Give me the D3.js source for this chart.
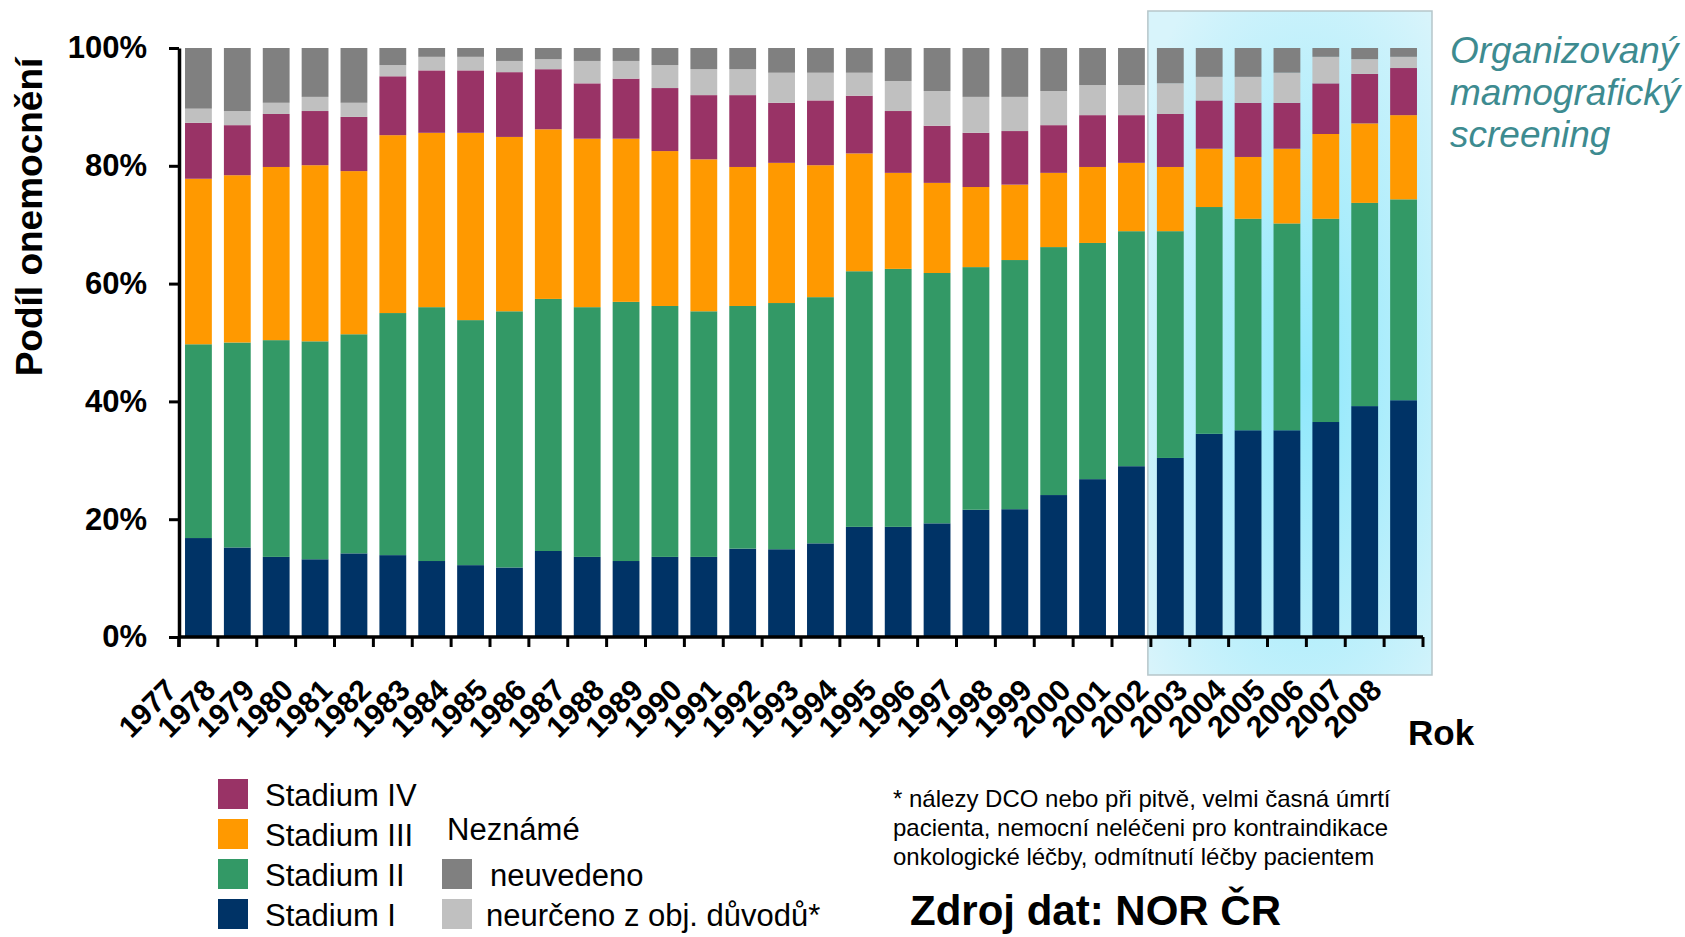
<!DOCTYPE html>
<html>
<head>
<meta charset="utf-8">
<script src="https://d3js.org/d3.v7.min.js"></script>
<style>
  body { margin: 0; background: #fff; }
  svg { display: block; font-family: "Liberation Sans", Arial, sans-serif; }
</style>
</head>
<body>
<div id="chart"></div>
<script>
// years on the x axis
const years = ["1977", "1978", "1979", "1980", "1981", "1982", "1983", "1984", "1985", "1986", "1987",
  "1988", "1989", "1990", "1991", "1992", "1993", "1994", "1995", "1996", "1997", "1998", "1999",
  "2000", "2001", "2002", "2003", "2004", "2005", "2006", "2007", "2008"];

// share of cases per stage (%)
const stageI = [16.8, 15.2, 13.6, 13.2, 14.2, 13.9, 12.9, 12.2, 11.8, 14.6, 13.6, 12.9, 13.6, 13.6, 15.0, 14.9,
  15.9, 18.7, 18.7, 19.3, 21.6, 21.7, 24.1, 26.8, 29.0, 30.4, 34.5, 35.1, 35.1, 36.5, 39.2, 40.2];
const stageII = [32.9, 34.8, 36.8, 37.0, 37.2, 41.1, 43.1, 41.6, 43.5, 42.8, 42.4, 44.0, 42.6, 41.7, 41.2, 41.8,
  41.8, 43.4, 43.8, 42.5, 41.2, 42.3, 42.1, 40.1, 39.9, 38.5, 38.5, 35.9, 35.1, 34.5, 34.5, 34.1];
const stageIII = [28.1, 28.4, 29.4, 29.9, 27.7, 30.2, 29.6, 31.8, 29.6, 28.8, 28.6, 27.7, 26.3, 25.8, 23.6, 23.8,
  22.4, 20.0, 16.3, 15.3, 13.6, 12.8, 12.6, 12.9, 11.6, 10.9, 9.9, 10.5, 12.7, 14.4, 13.5, 14.3];
const stageIV = [9.5, 8.5, 9.0, 9.2, 9.2, 10.0, 10.6, 10.6, 11.0, 10.2, 9.4, 10.2, 10.7, 10.9, 12.2, 10.2,
  11.0, 9.8, 10.5, 9.7, 9.2, 9.1, 8.1, 8.8, 8.1, 9.0, 8.2, 9.2, 7.8, 8.6, 8.4, 8.0];
const neurceno = [2.4, 2.4, 1.9, 2.4, 2.4, 1.9, 2.3, 2.3, 1.9, 1.7, 3.8, 3.0, 3.9, 4.4, 4.4, 5.1,
  4.7, 3.9, 5.1, 5.9, 6.1, 5.8, 5.8, 5.1, 5.1, 5.2, 4.0, 4.4, 5.1, 4.5, 2.5, 1.9];
const neuvedeno = [10.3, 10.7, 9.3, 8.3, 9.3, 2.9, 1.5, 1.5, 2.2, 1.9, 2.2, 2.2, 2.9, 3.6, 3.6, 4.2,
  4.2, 4.2, 5.6, 7.3, 8.3, 8.3, 7.3, 6.3, 6.3, 6.0, 4.9, 4.9, 4.2, 1.5, 1.9, 1.5];

// series keys (bottom to top) and their colours
const keys = ["I", "II", "III", "IV", "neurceno", "neuvedeno"];
const colors = ["#003366", "#339966", "#FF9900", "#993366", "#C0C0C0", "#808080"];

// y axis ticks
const yTicks = [0, 0.2, 0.4, 0.6, 0.8, 1];

// first year of organised screening
const screeningStart = "2002";

// build rows for d3.stack
const series = [stageI, stageII, stageIII, stageIV, neurceno, neuvedeno];
const data = years.map((y, i) => {
  const row = { year: y };
  keys.forEach((k, j) => { row[k] = series[j][i] / 100; });
  return row;
});

const width = 1685, height = 937;
const plot = { left: 179, right: 1423, top: 48, bottom: 637 };

const svg = d3.select("#chart")
  .append("svg")
  .attr("width", width)
  .attr("height", height);

const x = d3.scaleBand()
  .domain(years)
  .range([plot.left, plot.right])
  .paddingInner(0.31)
  .paddingOuter(0.155);

const y = d3.scaleLinear()
  .domain([0, 1])
  .range([plot.bottom, plot.top]);

const color = d3.scaleOrdinal()
  .domain(keys)
  .range(colors);

// screening box with a soft cyan glow
const defs = svg.append("defs");
const grad = defs.append("radialGradient")
  .attr("id", "glow")
  .attr("cx", "55%").attr("cy", "55%").attr("r", "70%");
grad.append("stop").attr("offset", "0%").attr("stop-color", "#8ee8fc");
grad.append("stop").attr("offset", "100%").attr("stop-color", "#d8f4fb");

const gap = x.step() * x.paddingInner();
const boxLeft = x(screeningStart) - gap / 2 - 3;
svg.append("rect")
  .attr("x", boxLeft)
  .attr("y", 11)
  .attr("width", plot.right + 9 - boxLeft)
  .attr("height", 664)
  .attr("fill", "url(#glow)")
  .attr("stroke", "#b6c6ca")
  .attr("stroke-width", 1.5);

// stacked bars
const stacked = d3.stack().keys(keys)(data);

svg.append("g")
  .selectAll("g")
  .data(stacked)
  .join("g")
  .attr("fill", d => color(d.key))
  .selectAll("rect")
  .data(d => d)
  .join("rect")
  .attr("x", d => x(d.data.year))
  .attr("y", d => y(d[1]))
  .attr("height", d => y(d[0]) - y(d[1]))
  .attr("width", x.bandwidth());

// y axis
const yAxis = svg.append("g")
  .attr("transform", `translate(${plot.left},0)`)
  .call(d3.axisLeft(y).tickValues(yTicks).tickFormat(d3.format(".0%")).tickSize(10).tickSizeOuter(0).tickPadding(22));
yAxis.select(".domain").attr("stroke-width", 3.5);
yAxis.selectAll(".tick line").attr("stroke-width", 3);
yAxis.selectAll(".tick text")
  .style("font-size", "31px")
  .style("font-weight", "bold")
  .attr("fill", "#000");

// y axis continues down to the x ticks
svg.append("line")
  .attr("x1", plot.left).attr("x2", plot.left)
  .attr("y1", plot.bottom).attr("y2", plot.bottom + 10)
  .attr("stroke", "#000").attr("stroke-width", 3.5);

// x axis line and ticks between categories
svg.append("line")
  .attr("x1", plot.left).attr("x2", plot.right)
  .attr("y1", plot.bottom).attr("y2", plot.bottom)
  .attr("stroke", "#000").attr("stroke-width", 3.5);

svg.append("g")
  .selectAll("line")
  .data(d3.range(years.length + 1))
  .join("line")
  .attr("x1", i => plot.left + i * x.step())
  .attr("x2", i => plot.left + i * x.step())
  .attr("y1", plot.bottom)
  .attr("y2", plot.bottom + 10)
  .attr("stroke", "#000")
  .attr("stroke-width", 3);

// rotated year labels
svg.append("g")
  .selectAll("text")
  .data(years)
  .join("text")
  .attr("transform", d => `translate(${x(d) + x.bandwidth() / 2 - 20},${plot.bottom + 55}) rotate(-45)`)
  .attr("text-anchor", "end")
  .style("font-size", "30px")
  .style("font-weight", "bold")
  .text(d => d);

// axis titles
svg.append("text")
  .attr("transform", "translate(42,217) rotate(-90)")
  .attr("text-anchor", "middle")
  .style("font-size", "37px")
  .style("font-weight", "bold")
  .text("Podíl onemocnění");

svg.append("text")
  .attr("x", 1408)
  .attr("y", 745)
  .style("font-size", "35px")
  .style("font-weight", "bold")
  .text("Rok");

// screening annotation
svg.append("text")
  .attr("x", 1450)
  .attr("y", 63)
  .style("font-size", "37px")
  .style("font-style", "italic")
  .attr("fill", "#3d8b90")
  .selectAll("tspan")
  .data(["Organizovaný", "mamografický", "screening"])
  .join("tspan")
  .attr("x", 1450)
  .attr("dy", (d, i) => i === 0 ? 0 : 42)
  .text(d => d);

// legend: stages
const stageLegend = [
  { key: "IV", label: "Stadium IV" },
  { key: "III", label: "Stadium III" },
  { key: "II", label: "Stadium II" },
  { key: "I", label: "Stadium I" }
];

const leg = svg.append("g");
leg.selectAll("rect")
  .data(stageLegend)
  .join("rect")
  .attr("x", 218)
  .attr("y", (d, i) => 779 + i * 40)
  .attr("width", 30)
  .attr("height", 30)
  .attr("fill", d => color(d.key));

leg.selectAll("text")
  .data(stageLegend)
  .join("text")
  .attr("x", 265)
  .attr("y", (d, i) => 806 + i * 40)
  .style("font-size", "31px")
  .text(d => d.label);

// legend: unknown stage
svg.append("text")
  .attr("x", 447)
  .attr("y", 840)
  .style("font-size", "31px")
  .text("Neznámé");

const unknownLegend = [
  { key: "neuvedeno", label: "neuvedeno", tx: 490 },
  { key: "neurceno", label: "neurčeno z obj. důvodů*", tx: 486 }
];

svg.append("g")
  .selectAll("rect")
  .data(unknownLegend)
  .join("rect")
  .attr("x", 442)
  .attr("y", (d, i) => 859 + i * 40)
  .attr("width", 30)
  .attr("height", 30)
  .attr("fill", d => color(d.key));

svg.append("g")
  .selectAll("text")
  .data(unknownLegend)
  .join("text")
  .attr("x", d => d.tx)
  .attr("y", (d, i) => 886 + i * 40)
  .style("font-size", "31px")
  .text(d => d.label);

// footnote
svg.append("text")
  .attr("y", 807)
  .style("font-size", "24px")
  .selectAll("tspan")
  .data(["* nálezy DCO nebo při pitvě, velmi časná úmrtí",
    "pacienta, nemocní neléčeni pro kontraindikace",
    "onkologické léčby, odmítnutí léčby pacientem"])
  .join("tspan")
  .attr("x", 893)
  .attr("dy", (d, i) => i === 0 ? 0 : 29)
  .text(d => d);

// source
svg.append("text")
  .attr("x", 910)
  .attr("y", 925)
  .style("font-size", "42px")
  .style("font-weight", "bold")
  .text("Zdroj dat: NOR ČR");
</script>
</body>
</html>
